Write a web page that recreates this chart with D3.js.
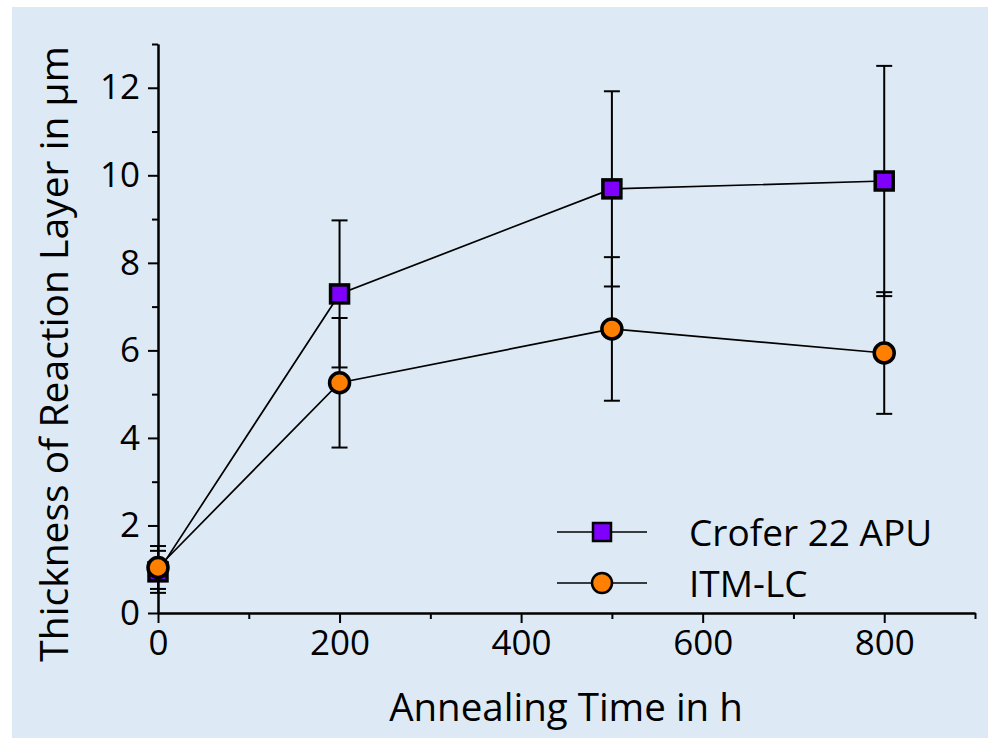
<!DOCTYPE html>
<html>
<head>
<meta charset="utf-8">
<script src="https://cdn.jsdelivr.net/npm/d3@7"></script>
<style>
  body { margin: 0; background: #ffffff; }
  svg { display: block; }
  text { font-family: 'Open Sans', 'Noto Sans', sans-serif; fill: #000; }
</style>
</head>
<body>
<svg></svg>
<script>
const times = [0, 200, 500, 800];

const croferValues = [0.94, 7.29, 9.69, 9.87];
const croferErrors = [0.48, 1.68, 2.23, 2.63];

const itmValues = [1.04, 5.26, 6.49, 5.94];
const itmErrors = [0.49, 1.48, 1.64, 1.39];

const seriesNames = ['Crofer 22 APU', 'ITM-LC'];

const xMajorTicks = [0, 200, 400, 600, 800];
const xMinorTicks = [100, 300, 500, 700, 900];
const yMajorTicks = [0, 2, 4, 6, 8, 10, 12];
const yMinorTicks = [1, 3, 5, 7, 9, 11, 13];

const width = 988;
const height = 738;

const svg = d3.select('svg').attr('width', width).attr('height', height);

// light blue panel
svg.append('rect')
  .attr('x', 12).attr('y', 7)
  .attr('width', width - 12).attr('height', height - 7)
  .attr('fill', '#ddeaf5');

const xScale = d3.scaleLinear().domain([0, 900]).range([158, 975]);
const yScale = d3.scaleLinear().domain([0, 13]).range([613, 44]);

const styleAxis = (g) => {
  g.selectAll('path, line').attr('stroke', '#000').attr('stroke-width', 2);
  g.selectAll('text').attr('font-size', 35).attr('fill', '#000');
};

// x axis
svg.append('g')
  .attr('transform', 'translate(0,' + yScale(0) + ')')
  .call(d3.axisBottom(xScale).tickValues(xMinorTicks).tickSize(6).tickSizeOuter(0).tickFormat(''))
  .call(styleAxis);
svg.append('g')
  .attr('transform', 'translate(0,' + yScale(0) + ')')
  .call(d3.axisBottom(xScale).tickValues(xMajorTicks).tickSize(10).tickSizeOuter(0).tickPadding(7).tickFormat(d3.format('d')))
  .call(styleAxis);

// y axis
svg.append('g')
  .attr('transform', 'translate(' + xScale(0) + ',0)')
  .call(d3.axisLeft(yScale).tickValues(yMinorTicks).tickSize(6).tickSizeOuter(0).tickFormat(''))
  .call(styleAxis);
svg.append('g')
  .attr('transform', 'translate(' + xScale(0) + ',0)')
  .call(d3.axisLeft(yScale).tickValues(yMajorTicks).tickSize(10).tickSizeOuter(0).tickPadding(8).tickFormat(d3.format('d')))
  .call(styleAxis);

// axis titles
svg.append('text')
  .attr('x', 566).attr('y', 721)
  .attr('text-anchor', 'middle')
  .attr('font-size', 38.5)
  .text('Annealing Time in h');

svg.append('text')
  .attr('transform', 'translate(68,354) rotate(-90)')
  .attr('text-anchor', 'middle')
  .attr('font-size', 39)
  .text('Thickness of Reaction Layer in µm');

const series = [
  { name: seriesNames[0], values: croferValues, errors: croferErrors, fill: '#8000ff', shape: 'square' },
  { name: seriesNames[1], values: itmValues, errors: itmErrors, fill: '#ff8000', shape: 'circle' },
];

const points = (s) => times.map((t, i) => ({ t: t, v: s.values[i], e: s.errors[i] }));

// error bars
series.forEach((s) => {
  const g = svg.append('g').attr('stroke', '#000').attr('stroke-width', 2);
  points(s).forEach((p) => {
    const x = xScale(p.t);
    g.append('line').attr('x1', x).attr('x2', x)
      .attr('y1', yScale(p.v - p.e)).attr('y2', yScale(p.v + p.e));
    [p.v - p.e, p.v + p.e].forEach((val) => {
      g.append('line').attr('x1', x - 8).attr('x2', x + 8)
        .attr('y1', yScale(val)).attr('y2', yScale(val));
    });
  });
});

// connecting lines
const line = d3.line().x((d) => xScale(d.t)).y((d) => yScale(d.v));
series.forEach((s) => {
  svg.append('path')
    .datum(points(s))
    .attr('d', line)
    .attr('fill', 'none')
    .attr('stroke', '#000')
    .attr('stroke-width', 1.7);
});

const drawMarker = (g, s, x, y, size, sw) => {
  if (s.shape === 'square') {
    g.append('rect')
      .attr('x', x - size / 2).attr('y', y - size / 2)
      .attr('width', size).attr('height', size)
      .attr('fill', s.fill).attr('stroke', '#000').attr('stroke-width', sw);
  } else {
    g.append('circle')
      .attr('cx', x).attr('cy', y).attr('r', size / 2 + 1)
      .attr('fill', s.fill).attr('stroke', '#000').attr('stroke-width', sw);
  }
};

// markers
series.forEach((s) => {
  const g = svg.append('g');
  points(s).forEach((p) => drawMarker(g, s, xScale(p.t), yScale(p.v), 18, 3.5));
});

// legend
const legendY = [532, 583];
series.forEach((s, i) => {
  const g = svg.append('g');
  g.append('line')
    .attr('x1', 557).attr('x2', 647)
    .attr('y1', legendY[i]).attr('y2', legendY[i])
    .attr('stroke', '#000').attr('stroke-width', 1.7);
  drawMarker(g, s, 602, legendY[i], 18, 2.5);
  g.append('text')
    .attr('x', 689).attr('y', legendY[i] + 14)
    .attr('font-size', 37)
    .text(s.name);
});
</script>
</body>
</html>
